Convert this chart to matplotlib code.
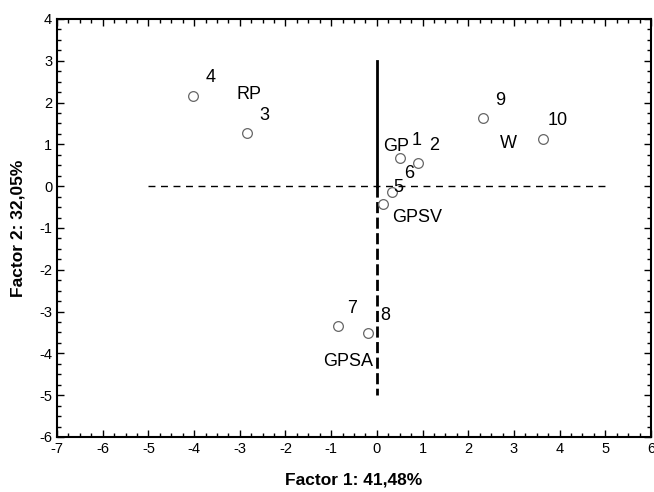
import matplotlib.pyplot as plt
from matplotlib.ticker import MultipleLocator

plt.rcParams['font.family'] = ['Liberation Sans', 'DejaVu Sans']
plt.rcParams['axes.unicode_minus'] = False

# sample scores (factor 1, factor 2)
samples = ['1', '2', '3', '4', '5', '6', '7', '8', '9', '10']
f1 = [0.50, 0.90, -2.84, -4.03, 0.13, 0.33, -0.85, -0.20, 2.32, 3.63]
f2 = [0.67, 0.55, 1.27, 2.15, -0.43, -0.14, -3.35, -3.52, 1.63, 1.12]

# where the number labels sit
num_x = [0.88, 1.25, -2.47, -3.63, 0.48, 0.70, -0.55, 0.18, 2.69, 3.96]
num_y = [1.10, 0.98, 1.70, 2.61, -0.02, 0.31, -2.92, -3.09, 2.06, 1.58]

# group labels
groups = ['RP', 'GP', 'W', 'GPSV', 'GPSA']
grp_x = [-2.8, 0.42, 2.87, 0.88, -0.63]
grp_y = [2.2, 0.96, 1.03, -0.74, -4.2]

fig = plt.figure(figsize=(6.54, 4.92), dpi=100)
ax = fig.add_axes([0.0872, 0.1118, 0.9082, 0.8496])

# reference lines
ax.plot([-5, 5], [0, 0], color='black', linestyle=(0, (5, 4)), linewidth=1)
ax.plot([0, 0], [0, 3], color='black', linewidth=2)
ax.plot([0, 0], [0, -5], color='black', linestyle=(0, (4, 1.6)), linewidth=2)

ax.plot(f1, f2, linestyle='none', marker='o', markersize=7,
        markerfacecolor='white', markeredgecolor='#666666', markeredgewidth=0.9)

for s, x, y in zip(samples, num_x, num_y):
    ax.text(x, y, s, fontsize=13, ha='center', va='center')
for g, x, y in zip(groups, grp_x, grp_y):
    ax.text(x, y, g, fontsize=13, ha='center', va='center')

ax.set_xlim(-7, 6)
ax.set_ylim(-6, 4)
ax.xaxis.set_major_locator(MultipleLocator(1))
ax.yaxis.set_major_locator(MultipleLocator(1))
ax.xaxis.set_minor_locator(MultipleLocator(0.25))
ax.yaxis.set_minor_locator(MultipleLocator(0.25))
ax.tick_params(which='both', direction='in', top=True, right=True, labelsize=10.5)
ax.tick_params(which='major', length=5, width=1)
ax.tick_params(which='minor', length=3, width=1)
for sp in ax.spines.values():
    sp.set_linewidth(1.5)

ax.set_xlabel('Factor 1: 41,48%', fontsize=12.5, fontweight='bold', labelpad=12)
ax.set_ylabel('Factor 2: 32,05%', fontsize=12.5, fontweight='bold', labelpad=10)

fig.savefig('out.png', dpi=100)
